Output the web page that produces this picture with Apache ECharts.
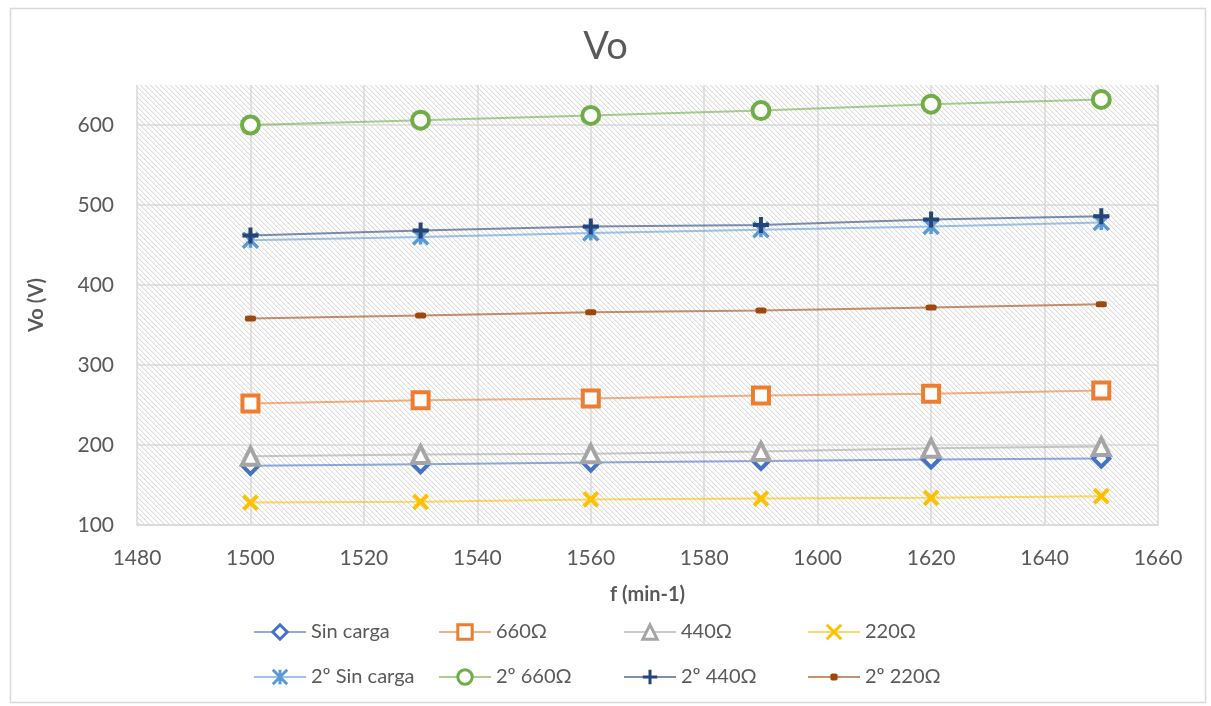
<!DOCTYPE html>
<html>
<head>
<meta charset="utf-8">
<script src="https://cdn.jsdelivr.net/npm/echarts@6/dist/echarts.min.js"></script>
<style>
html,body{margin:0;padding:0;background:#fff;}
#chart{width:1211px;height:706px;}
</style>
</head>
<body>
<div id="chart"></div>
<script>
// ---- data ----
const freq = [1500, 1530, 1560, 1590, 1620, 1650];
const seriesNames = ['Sin carga', '660Ω', '440Ω', '220Ω', '2º Sin carga', '2º 660Ω', '2º 440Ω', '2º 220Ω'];
const sinCarga   = [174, 176, 178, 180, 182, 183];
const r660       = [252, 256, 258, 262, 264, 268];
const r440       = [186, 188, 189, 192, 196, 198];
const r220       = [128, 129, 132, 133, 134, 136];
const sinCarga2  = [456, 460, 465, 469, 473, 478];
const r660_2     = [600, 606, 612, 618, 626, 632];
const r440_2     = [462, 468, 473, 475, 482, 486];
const r220_2     = [358, 362, 366, 368, 372, 376];
const values = [sinCarga, r660, r440, r220, sinCarga2, r660_2, r440_2, r220_2];

// ---- styles ----
const colors = ['#4472C4', '#ED7D31', '#A5A5A5', '#FFC000', '#5B9BD5', '#70AD47', '#264478', '#9E480E'];
const FONT = 'Lato';
const TXT = '#595959';

// hatch pattern for plot area
const tile = document.createElement('canvas');
tile.width = 5; tile.height = 5;
const tctx = tile.getContext('2d');
const img = tctx.createImageData(5, 5);
for (let y = 0; y < 5; y++) {
  for (let x = 0; x < 5; x++) {
    const d = ((x - y) % 5 + 5) % 5;
    const i = (y * 5 + x) * 4;
    let c = 255;
    if (d === 0) c = 220; else if (d === 1) c = 244;
    img.data[i] = c; img.data[i+1] = c; img.data[i+2] = c; img.data[i+3] = 255;
  }
}
tctx.putImageData(img, 0, 0);

const markers = [
  {symbol: 'diamond', size: 16, fill: '#fff', bw: 4},
  {symbol: 'rect', size: 16, fill: '#fff', bw: 4},
  {symbol: 'triangle', size: 17, fill: '#fff', bw: 4},
  {symbol: 'path://M0,0L10,10M10,0L0,10', size: 14, fill: 'transparent', bw: 4},
  {symbol: 'path://M0,0L10,10M10,0L0,10M5,0L5,10', size: 15, fill: 'transparent', bw: 3.5},
  {symbol: 'circle', size: 17, fill: '#fff', bw: 4},
  {symbol: 'path://M5,0L5,10M0,5L10,5', size: 16, fill: 'transparent', bw: 4},
  {symbol: 'roundRect', size: [11, 6], fill: '#9E480E', bw: 0}
];

const series = seriesNames.map((name, k) => ({
  name: name,
  type: 'line',
  data: freq.map((f, i) => [f, values[k][i]]),
  symbol: markers[k].symbol,
  symbolSize: markers[k].size,
  showAllSymbol: true,
  itemStyle: {color: markers[k].fill, borderColor: colors[k], borderWidth: markers[k].bw, opacity: 1},
  lineStyle: {color: colors[k], width: 2, opacity: 0.6},
  emphasis: {disabled: true},
  z: 2 + k
}));

const legendX = [248, 433, 618, 802];
const legendY = [617, 662];
const legends = seriesNames.map((name, k) => {
  const lg = {
    data: [name],
    left: legendX[k % 4],
    top: legendY[Math.floor(k / 4)],
    itemWidth: 52,
    itemHeight: k === 7 ? 9 : 18,
    itemGap: 0,
    selectedMode: false,
    textStyle: {fontFamily: FONT, fontSize: 20, color: TXT}
  };
  if (k !== 7) lg.itemStyle = {borderWidth: 3};
  return lg;
});

const chart = echarts.init(document.getElementById('chart'), null, {renderer: 'canvas'});
chart.setOption({
  backgroundColor: '#fff',
  animation: false,
  title: {
    text: 'Vo', left: 'center', top: 23,
    textStyle: {fontFamily: FONT, fontSize: 38, fontWeight: 'normal', color: TXT}
  },
  graphic: [{
    type: 'rect', left: 8, top: 6, silent: true,
    shape: {width: 1195, height: 694},
    style: {fill: 'none', stroke: '#d9d9d9', lineWidth: 1.5}
  }],
  legend: legends,
  grid: {
    left: 137, right: 53, top: 85, bottom: 181,
    show: true, borderWidth: 0,
    backgroundColor: {image: tile, repeat: 'repeat'}
  },
  xAxis: {
    type: 'value', min: 1480, max: 1660, interval: 20,
    name: 'f (min-1)', nameLocation: 'middle', nameGap: 60,
    nameTextStyle: {fontFamily: FONT, fontSize: 20, fontWeight: 'bold', color: TXT},
    axisLine: {show: true, lineStyle: {color: '#d9d9d9', width: 1.5}},
    axisTick: {show: false},
    axisLabel: {fontFamily: FONT, fontSize: 21, color: TXT, margin: 23,
      formatter: v => String(v)},
    splitLine: {show: true, lineStyle: {color: '#d9d9d9', width: 1.5}}
  },
  yAxis: {
    type: 'value', min: 100, max: 650, interval: 100,
    name: 'Vo (V)', nameLocation: 'middle', nameGap: 90, nameRotate: 90,
    nameTextStyle: {fontFamily: FONT, fontSize: 20, fontWeight: 'bold', color: TXT},
    axisLine: {show: false},
    axisTick: {show: false},
    axisLabel: {fontFamily: FONT, fontSize: 21, color: TXT, margin: 23,
      formatter: v => (v % 100 === 0 ? String(v) : '')},
    splitLine: {show: true, showMaxLine: false, lineStyle: {color: '#d9d9d9', width: 1.5}}
  },
  series: series
});
</script>
</body>
</html>
